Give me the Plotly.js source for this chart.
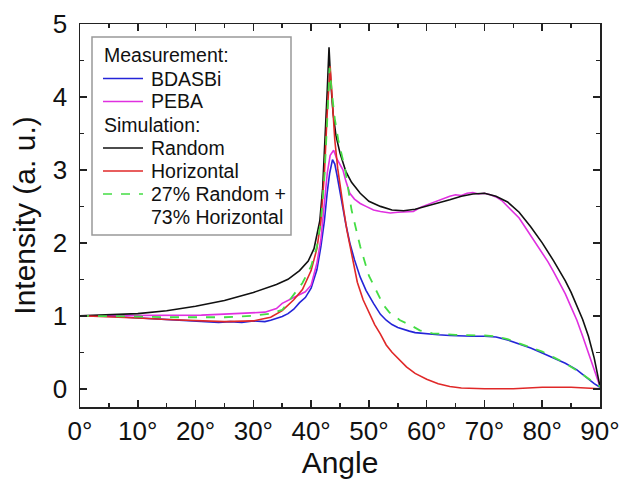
<!DOCTYPE html>
<html>
<head>
<meta charset="utf-8">
<script src="https://cdn.plot.ly/plotly-3.0.1.min.js"></script>
<style>html,body{margin:0;padding:0;background:#fff;}</style>
</head>
<body>
<div id="chart" style="width:621px;height:482px;"></div>
<script>
// Measurement: BDASBi (blue)
const bdasbiX = [0,2,4,6,8,10,12,14,16,18,20,22,24,26,28,30,31,32,33,34,35,36,37,38,39,40,41,41.7,42.3,42.8,43.2,43.7,44.1,44.5,45,45.5,46,46.7,47.5,48.5,49.5,50.8,52,53,54,55,56,57,58,59,60,62,64,66,68,70,72,74,76,78,80,82,84,86,88,89,90];
const bdasbiY = [1.0,1.0,0.99,0.99,0.98,0.97,0.96,0.96,0.95,0.94,0.93,0.91,0.91,0.92,0.91,0.93,0.93,0.92,0.94,0.96,0.99,1.03,1.09,1.18,1.25,1.38,1.63,1.95,2.3,2.7,2.95,3.14,3.08,2.92,2.7,2.45,2.26,2.0,1.77,1.53,1.35,1.17,1.02,0.94,0.88,0.84,0.81,0.79,0.77,0.76,0.75,0.74,0.73,0.72,0.72,0.72,0.71,0.67,0.62,0.56,0.49,0.42,0.35,0.26,0.13,0.07,0.02];

// Measurement: PEBA (magenta)
const pebaX = [0,3,6,9,12,15,18,21,24,27,30,32,34,35,37,39,40,41,41.7,42.3,42.8,43.3,43.9,44.4,45,45.5,46,46.7,47.5,48.5,49.5,50.8,52,53.7,55,56,57.7,59,60,61,62,63,64,65,66,67,68,69,70,71,72,73,74,75,76,77,78,79,80,81,82,83,84,85,86,87,88,89,90];
const pebaY = [1.0,1.0,1.0,1.0,1.0,1.0,1.0,1.01,1.02,1.03,1.04,1.05,1.1,1.17,1.25,1.33,1.42,1.72,2.05,2.5,2.96,3.2,3.27,3.16,3.08,3.0,2.85,2.68,2.6,2.54,2.5,2.45,2.43,2.41,2.42,2.42,2.43,2.49,2.52,2.56,2.59,2.61,2.64,2.66,2.65,2.68,2.69,2.67,2.68,2.66,2.63,2.58,2.5,2.43,2.34,2.22,2.1,1.98,1.87,1.74,1.6,1.46,1.3,1.12,0.94,0.72,0.5,0.27,0.03];

// Simulation: Random (black)
const randomX = [0,5,10,15,20,25,30,34,36,38,39.5,40.5,41.5,42,42.5,42.8,43.1,43.4,43.8,44.3,45,46,47,48.5,50,52,54,56,58,60,62,64,66,68,70,72,74,76,78,80,82,84,85,86,87,88,89,90];
const randomY = [1.0,1.01,1.03,1.07,1.13,1.21,1.32,1.43,1.5,1.62,1.75,1.92,2.3,2.75,3.5,4.1,4.68,4.2,3.78,3.47,3.23,2.98,2.83,2.68,2.57,2.5,2.45,2.44,2.46,2.5,2.54,2.59,2.64,2.67,2.68,2.64,2.56,2.42,2.22,2.0,1.75,1.48,1.32,1.14,0.95,0.72,0.42,0.03];

// Simulation: Horizontal (red)
const horizX = [0,5,10,15,20,25,30,33,35,37,38.5,40,41,41.7,42.3,42.8,43.3,43.6,44.1,44.6,45,45.6,46.2,47,48,49,50,51,52,53,54,55,56.5,58,60,62,64,66,70,75,80,85,90];
const horizY = [1.0,0.99,0.97,0.95,0.93,0.92,0.93,0.98,1.07,1.22,1.36,1.62,1.92,2.3,2.95,3.8,4.42,4.0,3.41,3.02,2.77,2.47,2.17,1.83,1.46,1.22,1.05,0.88,0.75,0.6,0.5,0.42,0.3,0.21,0.13,0.07,0.03,0.01,0.0,0.0,0.02,0.02,0.0];

// Simulation: 27% Random + 73% Horizontal (green dashed)
const mixX = [0,5,10,15,20,25,30,33,35,37,38.5,40,41,41.7,42.3,42.8,43.2,43.6,44.1,44.7,45.3,45.9,47,48.5,50,51.5,52.5,53.5,55.4,57.7,58.8,61,65,70,72,74,76,78,80,82,84,86,88,90];
const mixY = [1.0,1.0,0.99,0.98,0.98,0.98,1.0,1.03,1.08,1.3,1.45,1.68,1.95,2.3,2.9,3.7,4.4,4.05,3.7,3.41,3.2,3.0,2.45,1.95,1.55,1.3,1.15,1.05,0.94,0.85,0.8,0.76,0.74,0.73,0.72,0.68,0.62,0.56,0.51,0.43,0.35,0.25,0.14,0.03];

const tickVals = [0,10,20,30,40,50,60,70,80,90];
const tickText = ['0°','10°','20°','30°','40°','50°','60°','70°','80°','90°'];

// Legend content (header rows have no line)
const legendRows = [
  {text: 'Measurement:', header: true},
  {text: 'BDASBi', color: '#2424d8', dash: 'solid'},
  {text: 'PEBA', color: '#e030e0', dash: 'solid'},
  {text: 'Simulation:', header: true},
  {text: 'Random', color: '#111111', dash: 'solid'},
  {text: 'Horizontal', color: '#e02828', dash: 'solid'},
  {text: '27% Random +', color: '#44dd44', dash: 'dash'},
  {text: '73% Horizontal', cont: true}
];

const FONT = 'Liberation Sans, Arial, sans-serif';

const traces = [
  {x: bdasbiX, y: bdasbiY, name: 'BDASBi', mode: 'lines', line: {color: '#2424d8', width: 1.6}},
  {x: pebaX, y: pebaY, name: 'PEBA', mode: 'lines', line: {color: '#e030e0', width: 1.6}},
  {x: randomX, y: randomY, name: 'Random', mode: 'lines', line: {color: '#111111', width: 1.6}},
  {x: horizX, y: horizY, name: 'Horizontal', mode: 'lines', line: {color: '#e02828', width: 1.6}},
  {x: mixX, y: mixY, name: '27% Random + 73% Horizontal', mode: 'lines',
   line: {color: '#44dd44', width: 1.8, dash: 'dash'}}
];

// plot area in pixels: left 80, right 600, top 24, bottom 407
const PL = 80, PW = 520, PT = 24, PH = 383;
const px2x = p => (p - PL) / PW;
const py2y = p => (PT + PH - p) / PH;

const shapes = [{
  type: 'rect', xref: 'paper', yref: 'paper',
  x0: px2x(92), x1: px2x(291), y0: py2y(235), y1: py2y(37),
  line: {color: '#999', width: 1.5}, fillcolor: '#fff', layer: 'above'
}];
const annotations = [];
const rowY = [55, 78.5, 101.5, 125, 148, 171, 194, 217];
legendRows.forEach((r, i) => {
  const yy = py2y(rowY[i]);
  if (r.header) {
    annotations.push({xref: 'paper', yref: 'paper', x: px2x(102), y: yy, xanchor: 'left', yanchor: 'middle',
      text: r.text, showarrow: false, font: {family: FONT, size: 19.5, color: '#111'}});
  } else {
    if (!r.cont) {
      shapes.push({type: 'line', xref: 'paper', yref: 'paper', x0: px2x(103), x1: px2x(143), y0: yy, y1: yy,
        line: {color: r.color, width: 1.6, dash: r.dash}, layer: 'above'});
    }
    annotations.push({xref: 'paper', yref: 'paper', x: px2x(149), y: yy, xanchor: 'left', yanchor: 'middle',
      text: r.text, showarrow: false, font: {family: FONT, size: 19.5, color: '#111'}});
  }
});

const axisCommon = {
  showline: true, linecolor: '#222', linewidth: 1.5, mirror: 'ticks',
  ticks: 'inside', ticklen: 7, tickwidth: 1.5, tickcolor: '#222',
  showgrid: false, zeroline: false,
  tickfont: {family: FONT, size: 26, color: '#111'}
};

const layout = {
  width: 621, height: 482,
  margin: {l: 80, r: 21, t: 24, b: 75},
  paper_bgcolor: '#fff', plot_bgcolor: '#fff',
  font: {family: FONT, color: '#111'},
  showlegend: false,
  xaxis: Object.assign({}, axisCommon, {
    range: [0, 90], tickvals: tickVals, ticktext: tickText,
    minor: {tickvals: [5,15,25,35,45,55,65,75,85], ticks: 'inside', ticklen: 4, tickcolor: '#222', tickwidth: 1.5},
    title: {text: 'Angle', font: {family: FONT, size: 30, color: '#111'}, standoff: 6}
  }),
  yaxis: Object.assign({}, axisCommon, {
    range: [-0.25, 5], tickvals: [0,1,2,3,4,5],
    minor: {tickvals: [0.5,1.5,2.5,3.5,4.5], ticks: 'inside', ticklen: 4, tickcolor: '#222', tickwidth: 1.5},
    ticklabelstandoff: 6,
    title: {text: 'Intensity (a. u.)', font: {family: FONT, size: 30, color: '#111'}, standoff: 8}
  }),
  shapes: shapes,
  annotations: annotations
};

Plotly.newPlot('chart', traces, layout, {displayModeBar: false, staticPlot: true});
</script>
</body>
</html>
